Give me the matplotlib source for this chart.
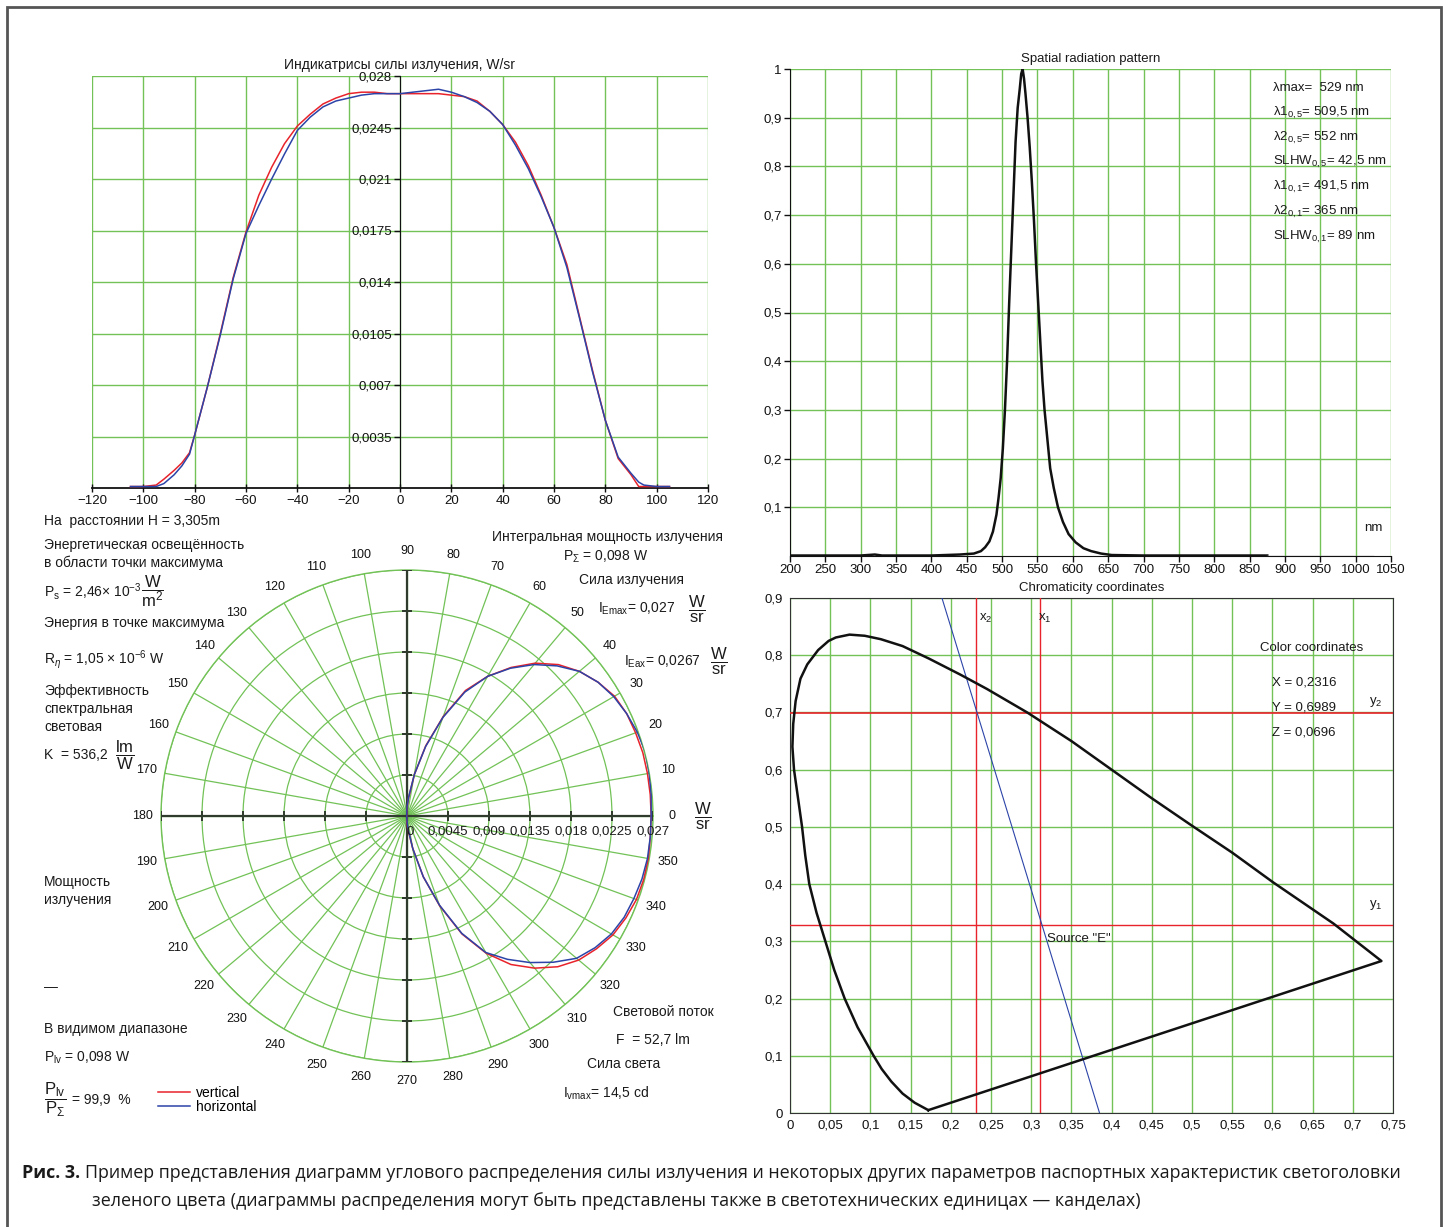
import numpy as np
import matplotlib
matplotlib.use('Agg')
import matplotlib.pyplot as plt
from matplotlib.patches import Rectangle

W, H = 1448, 1227
DPI = 100

# ---------------- data ----------------
angles_deg = [-105, -100, -95, -92, -88, -85, -82, -80, -75, -70, -65, -60, -55, -50,
              -45, -40, -35, -30, -25, -20, -15, -10, -5, 0, 5, 10, 15, 20, 25, 30,
              35, 40, 45, 50, 55, 60, 65, 70, 75, 80, 85, 90, 93, 95, 100, 105]
vertical_W_sr = [0.0001, 0.0001, 0.0002, 0.0006, 0.0012, 0.0017, 0.0024, 0.0036, 0.0069,
                 0.0105, 0.0143, 0.0174, 0.0199, 0.0218, 0.0234, 0.0246, 0.0254, 0.0261,
                 0.0265, 0.0268, 0.0269, 0.0269, 0.0268, 0.0268, 0.0268, 0.0268, 0.0268,
                 0.0267, 0.0266, 0.0263, 0.0256, 0.0247, 0.0235, 0.0219, 0.0199, 0.0177,
                 0.0152, 0.0116, 0.0080, 0.0046, 0.0020, 0.0009, 0.0001, 0.0001, 0.0001,
                 0.0001]
horizontal_W_sr = [0.0001, 0.0001, 0.0001, 0.0003, 0.0009, 0.0015, 0.0023, 0.0036, 0.0069,
                   0.0104, 0.0142, 0.0173, 0.0192, 0.0210, 0.0227, 0.0243, 0.0252, 0.0259,
                   0.0263, 0.0265, 0.0267, 0.0268, 0.0268, 0.0268, 0.0269, 0.0270, 0.0271,
                   0.0269, 0.0266, 0.0262, 0.0256, 0.0247, 0.0233, 0.0217, 0.0198, 0.0177,
                   0.0150, 0.0115, 0.0079, 0.0046, 0.0021, 0.0010, 0.0004, 0.0002, 0.0001,
                   0.0001]

spec_nm = [200, 300, 320, 330, 400, 440, 460, 470, 476, 482, 487, 492, 495, 498, 501, 504,
           507, 510, 513, 516, 519, 522, 525, 527, 529, 531, 533, 536, 539, 542, 545, 548,
           551, 554, 557, 560, 564, 568, 573, 579, 586, 594, 604, 615, 626, 640, 655, 700,
           800, 875, 900, 1025]
spec_rel = [0.001, 0.001, 0.003, 0.001, 0.001, 0.003, 0.005, 0.010, 0.018, 0.030, 0.050,
            0.085, 0.12, 0.16, 0.22, 0.30, 0.40, 0.52, 0.63, 0.74, 0.85, 0.92, 0.96, 0.99,
            1.0, 0.98, 0.95, 0.90, 0.84, 0.77, 0.69, 0.60, 0.52, 0.44, 0.36, 0.30, 0.24,
            0.18, 0.14, 0.10, 0.07, 0.045, 0.028, 0.016, 0.010, 0.005, 0.002, 0.001, 0.001,
            0.001, 0.001, 0.001]
spec_gray_from_nm = 875

locus_x = [0.172, 0.155, 0.140, 0.126, 0.114, 0.104, 0.094, 0.084, 0.068, 0.055, 0.044,
           0.033, 0.024, 0.019, 0.015, 0.010, 0.005, 0.003, 0.004, 0.007, 0.013, 0.0215,
           0.035, 0.048, 0.057, 0.074, 0.093, 0.113, 0.140, 0.173, 0.212, 0.245, 0.295,
           0.350, 0.400, 0.450, 0.499, 0.550, 0.601, 0.676, 0.7356]
locus_y = [0.005, 0.018, 0.034, 0.055, 0.077, 0.100, 0.125, 0.150, 0.200, 0.250, 0.300,
           0.350, 0.400, 0.450, 0.500, 0.550, 0.600, 0.640, 0.680, 0.720, 0.759, 0.784,
           0.809, 0.825, 0.831, 0.836, 0.834, 0.828, 0.816, 0.794, 0.766, 0.741, 0.700,
           0.650, 0.600, 0.550, 0.503, 0.455, 0.403, 0.331, 0.2656]
coord_X, coord_Y, coord_Z = 0.2316, 0.6989, 0.0696
x1_value = 0.311
y1_value = 0.328
dominant_x = [0.189, 0.385]
dominant_y = [0.9, 0.0]

ind_xticks = list(range(-120, 121, 20))
ind_yticks = [0.0035, 0.007, 0.0105, 0.014, 0.0175, 0.021, 0.0245, 0.028]
ind_ytick_labels = ['0,0035', '0,007', '0,0105', '0,014', '0,0175', '0,021', '0,0245', '0,028']
spec_xticks = list(range(200, 1051, 50))
spec_yticks = [0.1, 0.2, 0.3, 0.4, 0.5, 0.6, 0.7, 0.8, 0.9, 1.0]
spec_ytick_labels = ['0,1', '0,2', '0,3', '0,4', '0,5', '0,6', '0,7', '0,8', '0,9', '1']
chrom_xticks = [0, 0.05, 0.1, 0.15, 0.2, 0.25, 0.3, 0.35, 0.4, 0.45, 0.5, 0.55, 0.6, 0.65, 0.7, 0.75]
chrom_xtick_labels = ['0', '0,05', '0,1', '0,15', '0,2', '0,25', '0,3', '0,35', '0,4', '0,45',
                      '0,5', '0,55', '0,6', '0,65', '0,7', '0,75']
chrom_yticks = [0, 0.1, 0.2, 0.3, 0.4, 0.5, 0.6, 0.7, 0.8, 0.9]
chrom_ytick_labels = ['0', '0,1', '0,2', '0,3', '0,4', '0,5', '0,6', '0,7', '0,8', '0,9']
polar_rticks = [0, 0.0045, 0.009, 0.0135, 0.018, 0.0225, 0.027]
polar_rtick_labels = ['0', '0,0045', '0,009', '0,0135', '0,018', '0,0225', '0,027']
polar_theta_deg = list(range(0, 360, 10))

# ---------------- style ----------------
plt.rcParams['font.family'] = ['Liberation Sans', 'DejaVu Sans']
plt.rcParams['mathtext.fontset'] = 'custom'
plt.rcParams['mathtext.rm'] = 'Liberation Sans'
plt.rcParams['mathtext.it'] = 'Liberation Sans:italic'
plt.rcParams['mathtext.bf'] = 'Liberation Sans:bold'
plt.rcParams['axes.unicode_minus'] = True

GREEN = '#72c257'
RED = '#e8232b'
BLUE = '#2c44a8'
TXT = '#1a1a1a'

fig = plt.figure(figsize=(W / DPI, H / DPI), dpi=DPI)
fig.patch.set_facecolor('white')


def fx(x):
    return x / W


def fy(y):
    return 1 - y / H


def T(x, y, s, size=10, **kw):
    kw.setdefault('ha', 'left')
    kw.setdefault('va', 'center')
    return fig.text(fx(x), fy(y), s, fontsize=size, color=TXT, **kw)


# ---------------- indicatrix ----------------
ax1 = fig.add_axes([fx(92), fy(488), 616 / W, 412 / H])
ax1.set_axisbelow(True)
ax1.plot(angles_deg, vertical_W_sr, color=RED, lw=1.1, zorder=3)
ax1.plot(angles_deg, horizontal_W_sr, color=BLUE, lw=1.1, zorder=3)
ax1.set_xlim(-120, 120)
ax1.set_ylim(0, 0.028)
ax1.set_xticks(ind_xticks)
ax1.set_yticks(ind_yticks, ind_ytick_labels)
ax1.grid(True, color=GREEN, lw=1.0)
for s in ['top', 'right']:
    ax1.spines[s].set_visible(False)
ax1.spines['left'].set_position(('data', 0))
ax1.spines['left'].set_color('#111')
ax1.spines['bottom'].set_color('#111')
ax1.spines['bottom'].set_linewidth(1.3)
ax1.tick_params(axis='both', labelsize=9.5, length=4, width=1, colors='#111', pad=2)
ax1.tick_params(axis='x', direction='inout', length=6)
ax1.set_title('Индикатрисы силы излучения, W/sr', fontsize=10, pad=5, color=TXT)

# ---------------- spectrum ----------------
ax2 = fig.add_axes([fx(790), fy(556), 601 / W, 487 / H])
ax2.set_axisbelow(True)
nm = np.array(spec_nm)
rel = np.array(spec_rel)
main = nm <= spec_gray_from_nm
tail = nm >= spec_gray_from_nm
ax2.plot(nm[main], rel[main], color='#111', lw=1.8, zorder=3)
ax2.plot(nm[tail], rel[tail], color='#999', lw=1.0, zorder=3)
ax2.set_xlim(200, 1050)
ax2.set_ylim(0, 1)
ax2.set_xticks(spec_xticks)
ax2.set_yticks(spec_yticks, spec_ytick_labels)
ax2.grid(True, color=GREEN, lw=1.0)
for s in ['top', 'right']:
    ax2.spines[s].set_visible(False)
ax2.spines['left'].set_color('#111')
ax2.spines['bottom'].set_color('#111')
ax2.tick_params(axis='both', labelsize=9.5, length=4, width=1, colors='#111', pad=2)
ax2.set_title('Spatial radiation pattern', fontsize=9.5, pad=5, color=TXT)
ax2.text(1025, 0.057, 'nm', fontsize=9.5, ha='center', va='center', color=TXT)
spec_stats = [r'λmax=  529 nm',
              r'λ1$_{0,5}$= 509,5 nm',
              r'λ2$_{0,5}$= 552 nm',
              r'SLHW$_{0,5}$= 42,5 nm',
              r'λ1$_{0,1}$= 491,5 nm',
              r'λ2$_{0,1}$= 365 nm',
              r'SLHW$_{0,1}$= 89 nm']
stat_y = [0.961, 0.910, 0.858, 0.809, 0.758, 0.706, 0.655]
for s, yy in zip(spec_stats, stat_y):
    ax2.text(883, yy, s, fontsize=9.5, ha='left', va='center', color=TXT, zorder=4)

# ---------------- chromaticity ----------------
ax3 = fig.add_axes([fx(790), fy(1113), 603 / W, 515 / H])
ax3.set_axisbelow(True)
lx = np.append(locus_x, locus_x[0])
ly = np.append(locus_y, locus_y[0])
ax3.plot(lx, ly, color='#111', lw=1.8, zorder=4)
ax3.axvline(coord_X, color=RED, lw=1.0, zorder=3)
ax3.axvline(x1_value, color=RED, lw=1.0, zorder=3)
ax3.axhline(coord_Y, color=RED, lw=1.2, zorder=3)
ax3.axhline(y1_value, color=RED, lw=1.0, zorder=3)
ax3.plot(dominant_x, dominant_y, color=BLUE, lw=0.8, zorder=3)
ax3.set_xlim(0, 0.75)
ax3.set_ylim(0, 0.9)
ax3.set_xticks(chrom_xticks, chrom_xtick_labels)
ax3.set_yticks(chrom_yticks, chrom_ytick_labels)
ax3.grid(True, color=GREEN, lw=1.0)
for s in ax3.spines.values():
    s.set_color('#333')
ax3.tick_params(axis='both', labelsize=9.5, length=0, colors='#111', pad=5)
ax3.set_title('Chromaticity coordinates', fontsize=9.5, pad=5, color=TXT)
ax3.text(coord_X + 0.003, 0.86, r'x$_2$', fontsize=9.5, color=TXT)
ax3.text(x1_value - 0.002, 0.86, r'x$_1$', fontsize=9.5, color=TXT)
ax3.text(0.72, 0.715, r'y$_2$', fontsize=9.5, color=TXT)
ax3.text(0.72, 0.36, r'y$_1$', fontsize=9.5, color=TXT)
ax3.text(0.585, 0.813, 'Color coordinates', fontsize=9.5, color=TXT, va='center')
ax3.text(0.600, 0.752, 'X = ' + f'{coord_X:.4f}'.replace('.', ','), fontsize=9.5, color=TXT, va='center')
ax3.text(0.600, 0.709, 'Y = ' + f'{coord_Y:.4f}'.replace('.', ','), fontsize=9.5, color=TXT, va='center')
ax3.text(0.600, 0.665, 'Z = ' + f'{coord_Z:.4f}'.replace('.', ','), fontsize=9.5, color=TXT, va='center')
ax3.text(0.320, 0.304, 'Source "E"', fontsize=9.5, color=TXT, va='center')

# ---------------- polar ----------------
ax4 = fig.add_axes([fx(161), fy(1062), 492 / W, 492 / H], projection='polar')
ax4.set_ylim(0, 0.027)
ax4.set_thetagrids(polar_theta_deg, labels=[str(a) for a in polar_theta_deg], fontsize=9)
ax4.set_rgrids(polar_rticks[1:], labels=['' for _ in polar_rticks[1:]])
ax4.grid(True, color=GREEN, lw=0.9)
ax4.spines['polar'].set_color(GREEN)
ax4.spines['polar'].set_linewidth(1.0)
ax4.tick_params(axis='x', pad=3, colors='#111')
AXC = '#2f3b2c'
for th in [0, 90, 180, 270]:
    ax4.plot([np.deg2rad(th)] * 2, [0, 0.027], color=AXC, lw=1.6, zorder=3)
for th, mk in [(0, '|'), (180, '|'), (90, '_'), (270, '_')]:
    ax4.plot([np.deg2rad(th)] * (len(polar_rticks) - 1), polar_rticks[1:], ls='none',
             marker=mk, ms=7, mew=1.4, color=AXC, zorder=3)
ang_rad = np.deg2rad(angles_deg)
l_v, = ax4.plot(ang_rad, vertical_W_sr, color=RED, lw=1.1, zorder=4)
l_h, = ax4.plot(ang_rad, horizontal_W_sr, color=BLUE, lw=1.1, zorder=4)
for r, lab in zip(polar_rticks, polar_rtick_labels):
    ax4.annotate(lab, xy=(0, r), xytext=(2 if r == 0 else 0, -7), textcoords='offset points',
                 ha='center', va='top', fontsize=9.5, color=TXT, zorder=5)

fig.legend(handles=[l_v, l_h], labels=['vertical', 'horizontal'], loc='upper left',
           bbox_to_anchor=(fx(152), fy(1080)), frameon=False, fontsize=10,
           handlelength=2.3, handletextpad=0.5, labelspacing=0.05, borderaxespad=0)

# ---------------- side texts ----------------
FR = 12  # size of the stacked unit fractions
T(44, 521, 'На  расстоянии H = 3,305m')
T(44, 545, 'Энергетическая освещённость')
T(44, 563, 'в области точки максимума')
T(44, 592, r'P$_{\mathrm{s}}$ = 2,46× 10$^{-3}$')
T(141, 591, r'$\dfrac{\mathrm{W}}{\mathrm{m^2}}$', size=FR)
T(44, 623, 'Энергия в точке максимума')
T(44, 660, r'R$_{η}$ = 1,05 × 10$^{-6}$ W')
T(44, 691, 'Эффективность')
T(44, 709, 'спектральная')
T(44, 727, 'световая')
T(44, 755, 'K  = 536,2')
T(115, 755, r'$\dfrac{\mathrm{lm}}{\mathrm{W}}$', size=FR)
T(44, 882, 'Мощность')
T(44, 900, 'излучения')
T(44, 987, '—')
T(44, 1029, 'В видимом диапазоне')
T(44, 1058, r'P$_{\mathrm{lv}}$ = 0,098 W')
T(44, 1100, r'$\dfrac{\mathrm{P_{lv}}}{\mathrm{P_{\Sigma}}}$', size=FR)
T(72, 1100, '= 99,9  %')

T(492, 537, 'Интегральная мощность излучения')
T(563, 557, r'P$_{\mathrm{\Sigma}}$ = 0,098 W')
T(579, 580, 'Сила излучения')
T(598, 609, r'I$_{\mathrm{Emax}}$= 0,027')
T(688, 609, r'$\dfrac{\mathrm{W}}{\mathrm{sr}}$', size=FR)
T(624, 662, r'I$_{\mathrm{Eax}}$= 0,0267')
T(710, 661, r'$\dfrac{\mathrm{W}}{\mathrm{sr}}$', size=FR)
T(694, 816, r'$\dfrac{\mathrm{W}}{\mathrm{sr}}$', size=FR)
T(613, 1012, 'Световой поток')
T(616, 1040, 'F  = 52,7 lm')
T(587, 1064, 'Сила света')
T(563, 1093, r'I$_{\mathrm{vmax}}$= 14,5 cd')

# ---------------- frame ----------------
fig.add_artist(Rectangle((fx(7), -0.05), (1441 - 7) / W, 1 - 7 / H + 0.05,
                         transform=fig.transFigure, fill=False, edgecolor='#555', lw=2))

# ---------------- caption ----------------
CAP = 12.9
cap_font = ['Open Sans', 'DejaVu Sans']
t_bold = fig.text(fx(22), fy(1173), 'Рис. 3.', fontsize=CAP, fontweight='bold',
                  family=cap_font, color='#1a1a1a', ha='left', va='center')
fig.canvas.draw()
rend = fig.canvas.get_renderer()
bb = t_bold.get_window_extent(rend)
fig.text((bb.x1 + 5) / W, fy(1173),
         'Пример представления диаграмм углового распределения силы излучения и некоторых '
         'других параметров паспортных характеристик светоголовки',
         fontsize=CAP, family=cap_font, color='#1a1a1a', ha='left', va='center')
fig.text(fx(92), fy(1201),
         'зеленого цвета (диаграммы распределения могут быть представлены также в '
         'светотехнических единицах — канделах)',
         fontsize=CAP, family=cap_font, color='#1a1a1a', ha='left', va='center')

fig.savefig('out.png', dpi=DPI, facecolor='white')
